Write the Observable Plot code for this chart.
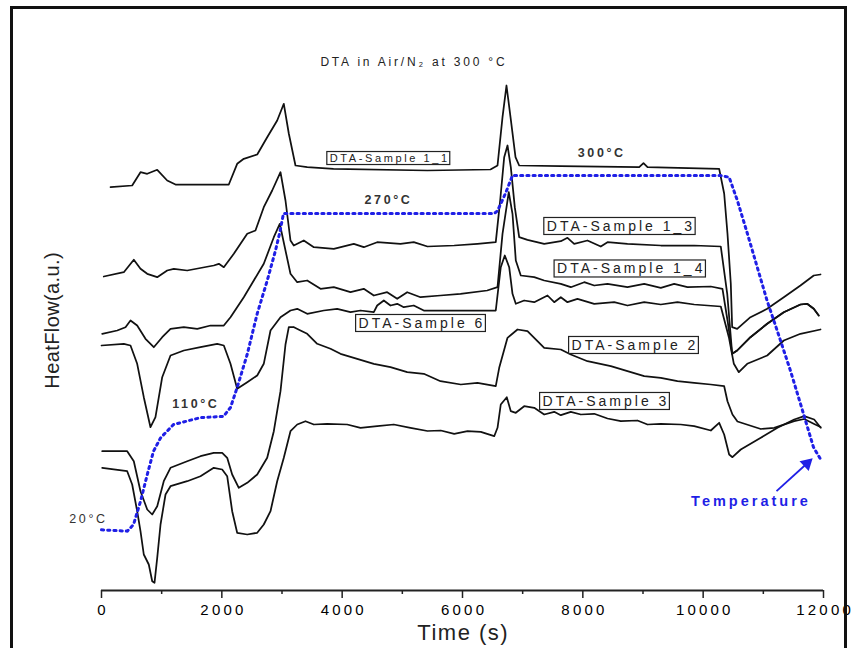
<!DOCTYPE html>
<html>
<head>
<meta charset="utf-8">
<script src="https://cdn.jsdelivr.net/npm/d3@7"></script>
<script src="https://cdn.jsdelivr.net/npm/@observablehq/plot@0.6"></script>
<style>
  html, body { margin: 0; padding: 0; background: #fff; }
  #wrap { position: relative; width: 854px; height: 648px; overflow: hidden; }
  #border { position: absolute; left: 10px; top: 6px; width: 831px; height: 660px; border: 3px solid #111; pointer-events: none; }
</style>
</head>
<body>
<div id="wrap"><div id="chart"></div><div id="border"></div></div>
<script>
// ---- Data: time (s) and heat flow (a.u.) ----
const sample1_1 = [[150,40.33],[510,40.5],[648,41.83],[760,41.67],[926,42.07],[1092,41.0],[1230,40.6],[2116,40.6],[2255,42.67],[2365,43.17],[2588,43.6],[2754,45.33],[2920,47.0],[3030,48.67],[3113,45.7],[3224,42.5],[3419,42.33],[3856,42.17],[5418,42.0],[6465,42.1],[6582,42.5],[6665,47.33],[6731,50.5],[6798,47.33],[6881,43.33],[6942,42.5],[7629,42.43],[8937,42.33],[9008,42.73],[9075,42.33],[10266,42.17],[10349,39.7],[10404,35.7],[10459,30.7],[10482,26.33],[10565,26.17],[10786,27.33],[11064,28.17],[11340,29.33],[11617,30.5],[11838,31.5],[11950,31.6]];

const sample1_3 = [[38,31.4],[371,31.83],[537,33.07],[648,32.17],[760,31.67],[926,31.33],[1092,32.0],[1202,32.17],[1424,32.0],[1866,32.5],[1950,32.67],[2033,32.33],[2199,33.67],[2422,35.67],[2559,36.0],[2697,38.33],[2837,40.0],[2975,41.83],[3058,39.0],[3141,35.0],[3196,34.5],[3362,35.0],[3529,34.33],[3861,34.17],[4193,34.67],[4359,34.33],[4582,34.83],[4969,34.67],[5190,34.83],[5418,34.4],[5862,34.5],[6249,34.67],[6553,34.83],[6626,39.0],[6693,43.33],[6748,44.5],[6803,42.33],[6869,38.33],[6942,35.33],[7080,35.07],[7358,34.67],[7634,34.93],[7745,35.27],[7856,34.67],[8077,35.0],[8298,34.4],[8410,34.83],[8742,34.67],[9296,34.5],[9851,34.5],[10293,34.4],[10400,29.67],[10482,23.67],[10565,24.0],[10786,25.33],[11064,26.67],[11340,27.83],[11617,28.6],[11728,28.67],[11838,28.17],[11921,27.5]];

const sample1_4 = [[12,25.67],[261,26.0],[399,26.33],[482,27.0],[593,26.5],[731,25.17],[869,24.33],[1009,25.33],[1147,26.17],[1368,26.33],[1591,26.17],[1812,26.5],[2033,26.5],[2144,27.33],[2365,29.33],[2531,31.0],[2697,32.67],[2864,35.33],[2963,36.67],[3141,31.67],[3253,30.83],[3419,31.0],[3640,30.17],[3861,30.33],[4138,29.83],[4359,30.17],[4526,29.5],[4748,29.83],[4915,29.17],[5081,29.83],[5302,29.33],[5634,29.5],[5967,29.67],[6410,30.0],[6582,30.33],[6665,35.67],[6769,39.83],[6831,37.67],[6886,33.0],[6969,31.5],[7192,31.33],[7358,31.0],[7634,30.67],[7800,30.33],[8023,30.83],[8189,30.5],[8410,30.67],[8742,30.33],[9020,30.67],[9296,30.27],[9518,30.67],[9739,30.33],[10127,30.4],[10321,30.17],[10410,26.8],[10482,23.67],[10565,24.0],[10786,25.33],[11064,26.67],[11340,27.83],[11617,28.6],[11728,28.67],[11838,28.17],[11921,27.5]];

const sample6 = [[0,24.5],[371,24.67],[482,24.5],[593,22.67],[703,19.33],[814,16.33],[897,17.33],[1009,21.33],[1147,23.5],[1368,24.0],[1645,24.33],[1923,24.67],[2033,24.5],[2144,22.67],[2255,20.17],[2422,20.83],[2588,21.5],[2697,22.67],[2809,26.0],[2975,27.33],[3141,28.0],[3253,28.17],[3419,27.67],[3695,28.0],[3917,28.17],[4138,27.83],[4305,28.0],[4526,27.83],[4582,28.5],[4692,29.0],[4803,28.5],[4915,28.67],[5024,28.33],[5190,28.5],[5357,28.0],[5579,28.0],[5912,28.0],[6188,28.0],[6553,28.0],[6636,32.33],[6703,33.5],[6776,32.33],[6831,29.67],[6886,28.67],[7025,29.0],[7192,28.83],[7413,29.5],[7524,28.83],[7634,29.33],[7745,28.83],[7911,29.17],[8189,28.67],[8521,28.83],[8742,28.5],[9020,28.83],[9296,28.6],[9573,28.83],[9851,28.6],[10293,28.4],[10427,25.33],[10510,22.67],[10593,21.83],[10732,22.67],[11064,23.5],[11340,25.0],[11617,25.67],[11950,26.1]];

const sample2 = [[12,13.93],[427,13.93],[537,12.93],[648,9.93],[760,8.1],[843,7.6],[926,8.43],[1035,10.93],[1147,12.27],[1424,12.93],[1645,13.43],[1866,13.77],[2006,13.77],[2089,13.27],[2172,11.6],[2282,10.27],[2422,10.77],[2588,11.6],[2754,13.27],[2864,15.93],[2975,19.93],[3058,24.6],[3113,26.33],[3191,26.35],[3307,26.0],[3419,25.67],[3585,24.67],[3806,24.17],[3972,23.67],[4250,23.17],[4526,22.67],[4803,22.33],[5081,21.83],[5357,21.67],[5634,20.93],[5972,20.6],[6249,20.77],[6553,20.43],[6610,22.27],[6748,25.27],[6914,26.1],[7080,25.93],[7246,24.93],[7358,24.27],[7634,24.1],[7800,23.6],[8077,22.93],[8465,22.43],[8742,21.93],[9020,21.43],[9296,21.27],[9573,20.93],[9851,20.77],[10127,20.6],[10349,20.43],[10404,18.93],[10487,17.6],[10570,16.9],[10958,16.15],[11180,16.27],[11513,16.93],[11679,17.15],[11845,16.65],[11950,16.35]];

const sample3 = [[12,12.27],[427,11.93],[510,10.6],[593,7.93],[648,5.93],[703,3.6],[786,2.6],[843,0.93],[881,0.77],[926,3.27],[981,6.6],[1064,9.6],[1147,10.43],[1424,10.93],[1645,11.43],[1866,12.27],[2006,12.1],[2089,11.43],[2172,7.93],[2255,5.77],[2422,5.6],[2588,5.77],[2697,6.6],[2809,7.93],[2920,10.93],[3030,13.27],[3141,15.93],[3253,16.6],[3390,16.93],[3529,16.6],[3751,16.67],[4084,16.6],[4305,16.27],[4582,16.43],[4858,16.6],[5136,16.27],[5418,15.95],[5639,16.0],[5862,15.67],[6083,15.93],[6304,15.87],[6527,15.43],[6582,16.27],[6636,18.6],[6736,19.33],[6803,17.93],[6886,17.77],[7025,18.43],[7192,18.27],[7358,17.6],[7524,17.87],[7634,17.53],[7800,17.87],[7966,17.6],[8189,17.67],[8410,17.2],[8631,16.93],[8908,17.0],[9075,16.6],[9296,16.67],[9628,16.6],[9851,16.43],[10127,16.0],[10266,16.77],[10349,15.6],[10432,13.6],[10487,13.33],[10625,14.1],[10958,15.27],[11235,16.27],[11513,17.1],[11679,17.43],[11845,17.1],[11955,16.27]];

// Temperature programme (°C) vs time (s)
const tempTime = [0,430,532,648,760,864,981,1197,1645,2028,2144,2255,2421,2588,2754,2892,2963,3025,6527,6581,6714,6831,10288,10432,10570,10736,10903,11064,11230,11451,11617,11833,11954];
const tempC    = [20.5,19.5,24.7,42.9,64,82.5,93,103.6,109,110,117,132.8,158.8,191,217,240.8,255,270,270,272,285.8,300,300,298.6,280,254,227,201,177.7,146,120,85.7,76];

// Series names and their label anchors (time s, heat flow a.u.)
const seriesNames = ["DTA-Sample 1_1","DTA-Sample 1_3","DTA-Sample 1_4","DTA-Sample 6","DTA-Sample 2","DTA-Sample 3"];
const labelTime   = [4770, 8609, 8780, 5302, 8842, 8360];
const labelValue  = [43.2, 36.4, 32.15, 26.7, 24.5, 18.9];

// Temperature annotations
const tempLabels     = ["300°C","270°C","110°C"];
const tempLabelTime  = [8293, 4748, 1546];
const tempLabelValue = [43.8, 39.1, 18.7];

const xMajorTicks = [0,2000,4000,6000,8000,10000,12000];
const xMinorTicks = [1000,3000,5000,7000,9000,11000];

// ---- Build tables ----
const seriesData = [sample1_1, sample1_3, sample1_4, sample6, sample2, sample3];
const curves = seriesData.flatMap((arr, i) => arr.map(([t, v]) => ({series: seriesNames[i], t, v})));
// temperature plotted on the same vertical axis: linear map °C -> a.u.
const tToAU = T => 6 + (T - 20) * 0.1268;
const temp = tempTime.map((t, i) => ({t, v: tToAU(tempC[i])}));
const labels = seriesNames.map((s, i) => ({s, t: labelTime[i], v: labelValue[i]}));
const tLabels = tempLabels.map((s, i) => ({s, t: tempLabelTime[i], v: tempLabelValue[i]}));

const blue = "#1f1fe6";
const arrowSeg = [{x1: 11219, y1: 9.93, x2: 11725, y2: 12.7}];

const chart = Plot.plot({
  width: 854,
  height: 648,
  marginLeft: 101,
  marginRight: 31,
  marginTop: 20,
  marginBottom: 58,
  x: {domain: [0, 12000]},
  y: {domain: [0, 57], axis: null},
  style: {fontFamily: "'Liberation Sans', Arial, sans-serif", background: "white", overflow: "visible"},
  marks: [
    Plot.axisX({ticks: xMinorTicks, tickSize: 4, tickFormat: () => "", label: null, stroke: "#222", strokeWidth: 1.5}),
    Plot.axisX({ticks: xMajorTicks, tickSize: 8, tickPadding: 6, tickFormat: d => String(d), fontSize: 15, label: null, stroke: "#222", strokeWidth: 1.5}),
    Plot.ruleY([0], {stroke: "#222", strokeWidth: 2}),
    Plot.text(["Time (s)"], {frameAnchor: "bottom", dy: 42, fontSize: 22, fill: "#222", lineAnchor: "middle"}),
    Plot.text(["HeatFlow(a.u.)"], {frameAnchor: "left", rotate: -90, dx: -49, dy: 15, fontSize: 20, fill: "#222", lineAnchor: "middle", textAnchor: "middle"}),
    Plot.line(curves, {x: "t", y: "v", z: "series", stroke: "#111", strokeWidth: 1.75, strokeLinejoin: "round"}),
    Plot.line(temp, {x: "t", y: "v", stroke: blue, strokeWidth: 3, strokeDasharray: "2.2,4"}),
    Plot.text(["DTA in Air/N₂ at 300 °C"], {x: 5169, y: 52.8, fontSize: 12, fill: "#222"}),
    Plot.text(labels.slice(0, 1), {x: "t", y: "v", text: "s", fontSize: 11, fill: "#222"}),
    Plot.text(labels.slice(1), {x: "t", y: "v", text: "s", fontSize: 14, fill: "#222"}),
    Plot.text(tLabels, {x: "t", y: "v", text: "s", fontSize: 12.5, fontWeight: "bold", fill: "#333"}),
    Plot.text(["20°C"], {x: -238, y: 7.2, fontSize: 12.5, fill: "#333"}),
    Plot.link(arrowSeg, {x1: "x1", y1: "y1", x2: "x2", y2: "y2", stroke: blue, strokeWidth: 1.8}),
    Plot.dot(arrowSeg, {x: "x2", y: "y2", symbol: "triangle", r: 5, fill: blue, stroke: "none", rotate: 47}),
    Plot.text(["Temperature"], {x: 10770, y: 8.9, fontSize: 14.5, fontWeight: "bold", fill: blue})
  ]
});

document.getElementById("chart").appendChild(chart);

// Letter spacing by text content, and boxes behind the sample labels
const svgNS = "http://www.w3.org/2000/svg";
chart.querySelectorAll("text").forEach(t => {
  const s = t.textContent;
  let ls = 0;
  if (s.startsWith("DTA-Sample 1_1")) ls = 2.6;
  else if (s.startsWith("DTA-Sample")) ls = 3;
  else if (s.startsWith("DTA in")) ls = 2.8;
  else if (s === "Temperature") ls = 3;
  else if (s.endsWith("°C")) ls = 2.6;
  else if (s === "Time (s)") ls = 1.5;
  else if (s.startsWith("HeatFlow")) ls = 0.4;
  else if (/^\d+$/.test(s)) ls = 3.2;
  if (ls) {
    t.style.letterSpacing = ls + "px";
    if (t.getAttribute("text-anchor") !== "start") {
      t.setAttribute("dx", ls / 2);
    }
  }
});
chart.querySelectorAll("text").forEach(t => {
  if (!t.textContent.startsWith("DTA-Sample")) return;
  const bb = t.getBBox();
  const r = document.createElementNS(svgNS, "rect");
  r.setAttribute("x", bb.x - 3);
  r.setAttribute("y", bb.y - 0.5);
  r.setAttribute("width", bb.width + 3);
  r.setAttribute("height", bb.height + 1);
  r.setAttribute("fill", "white");
  r.setAttribute("stroke", "#222");
  r.setAttribute("stroke-width", "1.2");
  const tr = t.getAttribute("transform");
  if (tr) r.setAttribute("transform", tr);
  t.parentNode.insertBefore(r, t);
});
</script>
</body>
</html>
